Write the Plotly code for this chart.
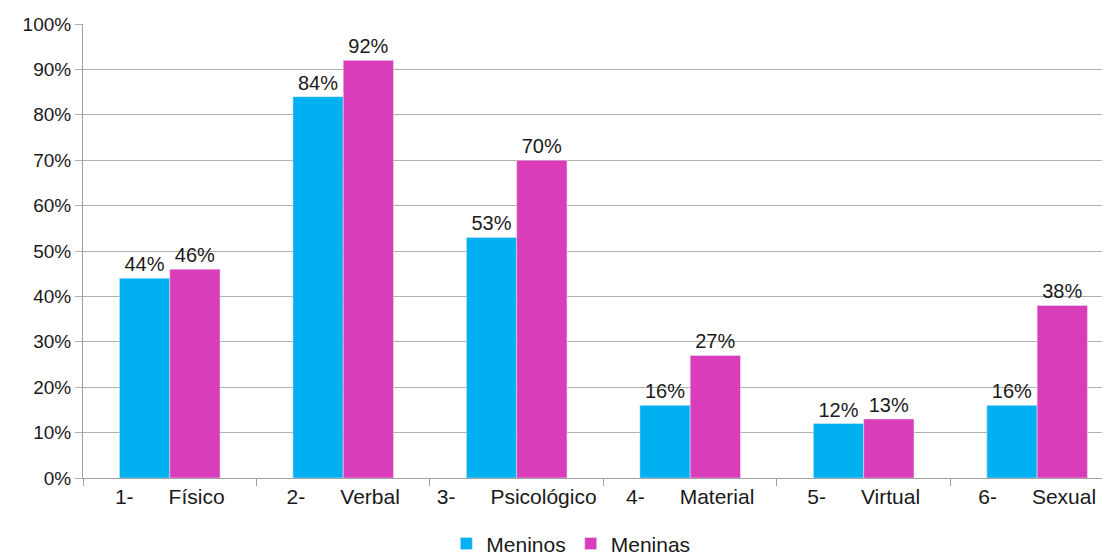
import plotly.graph_objects as go

SP = "\u00a0" * 6
categories = ["1-" + SP + "Físico", "2-" + SP + "Verbal", "3-" + SP + "Psicológico",
              "4-" + SP + "Material", "5-" + SP + "Virtual", "6-" + SP + "Sexual"]
meninos = [44, 84, 53, 16, 12, 16]
meninas = [46, 92, 70, 27, 13, 38]
yticks = list(range(0, 101, 10))

font = "Liberation Sans, Arial, sans-serif"

fig = go.Figure()
fig.add_bar(x=categories, y=meninos, name="Meninos", marker_color="#00B0F0",
            text=[f"{v}%" for v in meninos], textposition="outside",
            textfont=dict(size=20, color="#1a1a1a"), cliponaxis=False)
fig.add_bar(x=categories, y=meninas, name="Meninas", marker_color="#D93DB9",
            text=[f"{v}%" for v in meninas], textposition="outside",
            textfont=dict(size=20, color="#1a1a1a"), cliponaxis=False)

# page body has an 8px default margin, so the figure is sized to fit the window
fig.update_layout(
    width=1102, height=547,
    margin=dict(l=75, r=0, t=16, b=77, autoexpand=False),
    plot_bgcolor="white", paper_bgcolor="white",
    barmode="group", bargap=0.42, bargroupgap=0,
    font=dict(family=font, size=20, color="#1a1a1a"),
    legend=dict(orientation="h", x=0.475, xanchor="center", y=-0.1, yanchor="top",
                font=dict(size=21), itemwidth=30, traceorder="normal"),
    showlegend=True,
)
fig.update_xaxes(range=[-0.5, 5.42], ticks="outside", tickson="boundaries", ticklen=7,
                 tickcolor="#a0a0a0", showline=True, linecolor="#a0a0a0", linewidth=1,
                 tickfont=dict(size=21), showgrid=False, automargin=False)
fig.update_yaxes(range=[0, 100], tickvals=yticks, ticktext=[f"{v}%" for v in yticks],
                 ticks="outside", ticklen=7, tickcolor="#b0b0b0", showgrid=True,
                 gridcolor="#b0b0b0", gridwidth=1, showline=True, linecolor="#a0a0a0",
                 tickfont=dict(size=19), zeroline=False, automargin=False)

fig.write_html("out.html")
